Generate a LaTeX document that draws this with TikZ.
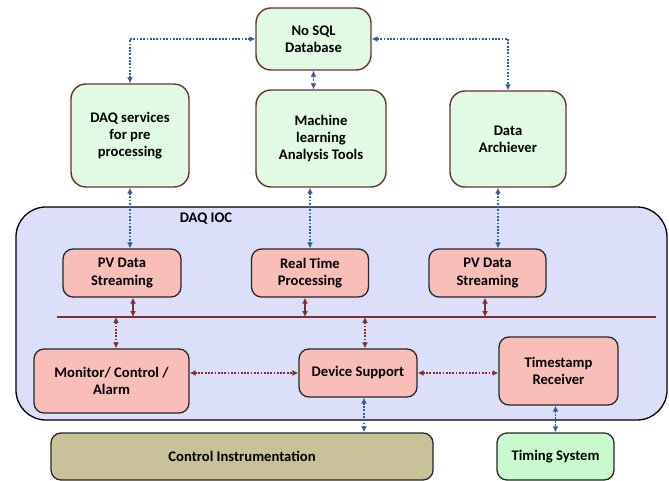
\documentclass[tikz,border=0pt]{standalone}
\usepackage{fontspec}
\setmainfont{Carlito}
\usetikzlibrary{shapes,arrows.meta,positioning,calc}
\definecolor{dbgreen}{RGB}{224,250,228}
\definecolor{timegreen}{RGB}{200,250,206}
\definecolor{boxrose}{RGB}{250,190,185}
\definecolor{iocblue}{RGB}{219,223,250}
\definecolor{khaki}{RGB}{201,193,152}
\definecolor{linkblue}{RGB}{46,92,160}
\definecolor{busred}{RGB}{125,48,48}
\definecolor{edgebrown}{RGB}{105,50,50}

\begin{document}
\begin{tikzpicture}[x=0.03cm, y=-0.03cm,
    every node/.style={font=\bfseries\fontsize{12.5}{14.8}\selectfont, align=center},
    greenbox/.style={draw=edgebrown, line width=1.2pt, fill=dbgreen, rounded corners=0.45cm},
    rosebox/.style={draw=black!85, line width=1.1pt, fill=boxrose, rounded corners=0.3cm},
    bluelink/.style={linkblue, line width=1.5pt, dash pattern=on 1.5pt off 1.3pt, {Latex[length=5pt,width=5pt]}-{Latex[length=5pt,width=5pt]}},
    redlink/.style={busred, line width=1.5pt, dash pattern=on 1.5pt off 1.3pt, {Latex[length=5pt,width=5pt]}-{Latex[length=5pt,width=5pt]}},
    redsolid/.style={busred, line width=1.3pt, {Latex[length=5pt,width=5pt]}-{Latex[length=5pt,width=5pt]}}]

  \useasboundingbox (0,0) rectangle (669,481);

  % IOC frame
  \node[draw=black, line width=1.1pt, fill=iocblue, rounded corners=0.9cm, minimum width=19.53cm, minimum height=6.39cm] (ioc) at (341.5,313.5) {};
  \node (ioclabel) at (206,219) {DAQ IOC};

  % upper services
  \node[greenbox, minimum width=3.45cm, minimum height=1.86cm] (nosql) at (313.5,39) {No SQL\\Database};
  \node[greenbox, minimum width=3.54cm, minimum height=3.09cm] (dbs) at (130,135.5) {DAQ services\\for pre\\processing};
  \node[greenbox, minimum width=3.9cm, minimum height=2.91cm] (ml) at (321,138.5) {Machine\\learning\\Analysis Tools};
  \node[greenbox, minimum width=3.48cm, minimum height=2.88cm] (arch) at (508,139) {Data\\Archiever};

  % IOC blocks
  \node[rosebox, minimum width=3.54cm, minimum height=1.44cm] (pv1) at (122,273) {PV Data\\Streaming};
  \node[rosebox, minimum width=3.51cm, minimum height=1.44cm] (rtp) at (310,273) {Real Time\\Processing};
  \node[rosebox, minimum width=3.51cm, minimum height=1.44cm] (pv2) at (487.5,273) {PV Data\\Streaming};
  \node[rosebox, minimum width=4.65cm, minimum height=1.92cm] (mca) at (111.5,381) {Monitor/ Control /\\Alarm};
  \node[rosebox, minimum width=3.54cm, minimum height=1.44cm] (dev) at (358,373) {Device Support};
  \node[rosebox, minimum width=3.57cm, minimum height=2.04cm] (ts) at (558.5,371) {Timestamp\\Receiver};

  % hardware
  \node[draw=black!85, line width=1.1pt, fill=khaki, rounded corners=0.3cm, minimum width=11.46cm, minimum height=1.41cm] (ci) at (242,456.5) {Control Instrumentation};
  \node[draw=black!85, line width=1.1pt, fill=timegreen, rounded corners=0.3cm, minimum width=3.51cm, minimum height=1.41cm] (tsys) at (555.5,456.5) {Timing System};

  % bus
  \coordinate (busl) at (57,317);
  \coordinate (busr) at (656,317);
  \draw[busred, line width=2pt] (busl) -- (busr);

  % links
  \draw[bluelink] (nosql.west) -| (dbs.north);
  \draw[bluelink] (nosql.east) -| (arch.north);
  \draw[bluelink] (nosql.south) -- (ml.north -| nosql.south);
  \draw[bluelink] (dbs.south) -- (pv1.north -| dbs.south);
  \draw[bluelink] (ml.south -| rtp.north) -- (rtp.north);
  \draw[bluelink] (arch.south -| 498,0) -- (pv2.north -| 498,0);

  \draw[redsolid] (pv1.south -| 133,0) -- (busl -| 133,0);
  \draw[redsolid] (rtp.south -| 305,0) -- (busl -| 305,0);
  \draw[redsolid] (pv2.south -| 485,0) -- (busl -| 485,0);
  \draw[redlink] (busl -| 116,0) -- (mca.north -| 116,0);
  \draw[redlink] (busl -| 365,0) -- (dev.north -| 365,0);
  \draw[redlink] (dev.west -| mca.east) -- (dev.west);
  \draw[redlink] (dev.east) -- (dev.east -| ts.west);

  \draw[bluelink] (dev.south -| 364,0) -- (ci.north -| 364,0);
  \draw[bluelink] (ts.south -| tsys.north) -- (tsys.north);
\end{tikzpicture}
\end{document}
